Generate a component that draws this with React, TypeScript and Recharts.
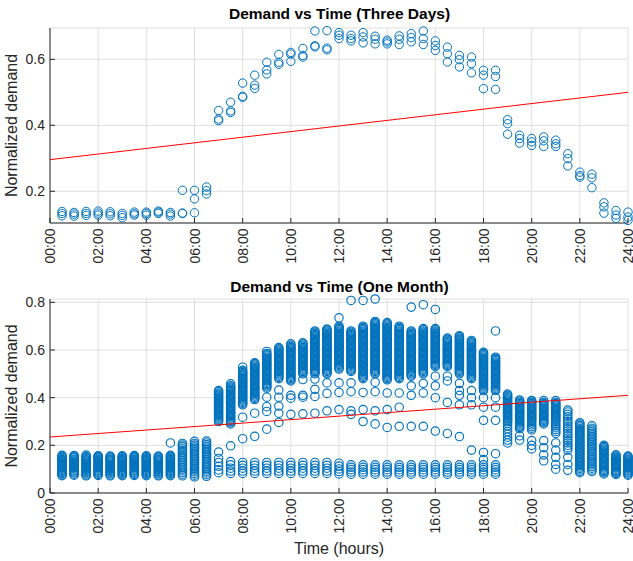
import React from 'react';
import { ScatterChart, Scatter, XAxis, YAxis, CartesianGrid } from 'recharts';

const hours = [
  0.5, 1, 1.5, 2, 2.5, 3, 3.5, 4, 4.5, 5, 5.5, 6, 6.5, 7, 7.5, 8, 8.5, 9, 9.5, 10, 10.5, 11, 11.5, 12,
  12.5, 13, 13.5, 14, 14.5, 15, 15.5, 16, 16.5, 17, 17.5, 18, 18.5, 19, 19.5, 20, 20.5, 21, 21.5, 22,
  22.5, 23, 23.5, 24,
];
const hourTicks = [0, 2, 4, 6, 8, 10, 12, 14, 16, 18, 20, 22, 24];
const threeDayYTicks = [0.2, 0.4, 0.6];
const monthYTicks = [0, 0.2, 0.4, 0.6, 0.8];

const threeDayDemand = [
  [0.139, 0.133, 0.126], [0.136, 0.131, 0.125], [0.139, 0.133, 0.127], [0.14, 0.134, 0.128],
  [0.138, 0.132, 0.126], [0.133, 0.127, 0.12], [0.137, 0.132, 0.128], [0.137, 0.133, 0.128],
  [0.14, 0.137, 0.133], [0.136, 0.131, 0.125], [0.203, 0.134, 0.133], [0.203, 0.177, 0.135],
  [0.213, 0.202, 0.192], [0.445, 0.419, 0.414], [0.47, 0.444, 0.439], [0.528, 0.488, 0.485],
  [0.552, 0.522, 0.512], [0.591, 0.568, 0.556], [0.615, 0.591, 0.585], [0.621, 0.616, 0.594],
  [0.633, 0.612, 0.607], [0.686, 0.641, 0.638], [0.687, 0.634, 0.629], [0.681, 0.673, 0.663],
  [0.673, 0.663, 0.656], [0.681, 0.668, 0.65], [0.67, 0.661, 0.647], [0.658, 0.653, 0.647],
  [0.671, 0.661, 0.645], [0.678, 0.666, 0.653], [0.686, 0.663, 0.645], [0.656, 0.642, 0.627],
  [0.637, 0.617, 0.592], [0.612, 0.599, 0.577], [0.607, 0.587, 0.559], [0.567, 0.552, 0.511],
  [0.567, 0.548, 0.509], [0.417, 0.405, 0.373], [0.37, 0.36, 0.346], [0.36, 0.35, 0.339],
  [0.365, 0.353, 0.336], [0.355, 0.344, 0.336], [0.314, 0.299, 0.277], [0.258, 0.248, 0.243],
  [0.252, 0.241, 0.211], [0.165, 0.153, 0.134], [0.142, 0.128, 0.118], [0.137, 0.122, 0.112],
];

// one month: readings per half-hour column, 00:30 - 06:30
const monthNight = [
  [0.073, 0.077, 0.082, 0.086, 0.091, 0.095, 0.1, 0.104, 0.109, 0.113, 0.118, 0.122, 0.127, 0.131, 0.136, 0.14, 0.145, 0.149, 0.154, 0.158],
  [0.075, 0.079, 0.084, 0.088, 0.093, 0.097, 0.102, 0.106, 0.111, 0.115, 0.12, 0.124, 0.129, 0.133, 0.138, 0.142, 0.147, 0.151, 0.155, 0.157],
  [0.072, 0.076, 0.081, 0.085, 0.09, 0.094, 0.099, 0.103, 0.108, 0.112, 0.117, 0.121, 0.126, 0.13, 0.135, 0.139, 0.144, 0.148, 0.153, 0.159],
  [0.074, 0.078, 0.083, 0.087, 0.092, 0.096, 0.101, 0.105, 0.11, 0.114, 0.119, 0.123, 0.128, 0.132, 0.137, 0.141, 0.146, 0.15, 0.154, 0.156],
  [0.072, 0.076, 0.081, 0.085, 0.09, 0.094, 0.099, 0.103, 0.108, 0.112, 0.117, 0.121, 0.126, 0.13, 0.135, 0.139, 0.143, 0.147, 0.151, 0.155],
  [0.073, 0.077, 0.082, 0.086, 0.091, 0.095, 0.1, 0.104, 0.109, 0.113, 0.118, 0.122, 0.127, 0.131, 0.136, 0.14, 0.144, 0.148, 0.152, 0.156],
  [0.074, 0.078, 0.083, 0.087, 0.092, 0.096, 0.101, 0.105, 0.11, 0.114, 0.119, 0.123, 0.128, 0.132, 0.137, 0.141, 0.146, 0.15, 0.154, 0.157],
  [0.073, 0.077, 0.082, 0.086, 0.091, 0.095, 0.1, 0.104, 0.109, 0.113, 0.118, 0.122, 0.127, 0.131, 0.136, 0.14, 0.144, 0.148, 0.152, 0.156],
  [0.072, 0.076, 0.081, 0.085, 0.09, 0.094, 0.099, 0.103, 0.108, 0.112, 0.117, 0.121, 0.126, 0.13, 0.135, 0.139, 0.143, 0.147, 0.151, 0.155],
  [0.073, 0.077, 0.082, 0.086, 0.091, 0.095, 0.1, 0.104, 0.109, 0.113, 0.118, 0.122, 0.127, 0.131, 0.136, 0.14, 0.145, 0.149, 0.154, 0.158, 0.21],
  [0.072, 0.079, 0.086, 0.093, 0.1, 0.107, 0.114, 0.121, 0.128, 0.135, 0.142, 0.149, 0.156, 0.163, 0.17, 0.178, 0.186, 0.194, 0.201, 0.208],
  [0.068, 0.075, 0.082, 0.089, 0.096, 0.103, 0.11, 0.117, 0.124, 0.131, 0.138, 0.145, 0.152, 0.159, 0.166, 0.173, 0.18, 0.187, 0.194, 0.201, 0.208, 0.217],
  [0.07, 0.077, 0.084, 0.091, 0.098, 0.105, 0.112, 0.119, 0.126, 0.133, 0.14, 0.147, 0.154, 0.161, 0.168, 0.175, 0.182, 0.189, 0.196, 0.203, 0.21, 0.218],
];

// one month: 07:00 - 12:00
const monthMorning = [
  [0.3, 0.305, 0.31, 0.315, 0.32, 0.325, 0.33, 0.335, 0.34, 0.345, 0.35, 0.355, 0.36, 0.365, 0.37, 0.375, 0.38, 0.385, 0.39, 0.395, 0.4, 0.405, 0.41, 0.415, 0.42, 0.425, 0.43,
    0.172, 0.145, 0.128, 0.112, 0.097, 0.085],
  [0.29, 0.295, 0.3, 0.305, 0.31, 0.315, 0.32, 0.325, 0.33, 0.335, 0.34, 0.345, 0.35, 0.355, 0.36, 0.365, 0.37, 0.375, 0.38, 0.385, 0.39, 0.395, 0.4, 0.405, 0.41, 0.415, 0.42, 0.425, 0.43, 0.435, 0.44, 0.445, 0.45, 0.458,
    0.198, 0.132, 0.118, 0.104, 0.092, 0.082],
  [0.37, 0.375, 0.38, 0.385, 0.39, 0.395, 0.4, 0.405, 0.41, 0.415, 0.42, 0.425, 0.43, 0.435, 0.44, 0.445, 0.45, 0.455, 0.46, 0.465, 0.47, 0.475, 0.48, 0.485, 0.49, 0.495, 0.5, 0.505, 0.51, 0.515, 0.528,
    0.318, 0.228, 0.128, 0.116, 0.104, 0.092, 0.082],
  [0.392, 0.397, 0.402, 0.407, 0.412, 0.417, 0.422, 0.427, 0.432, 0.437, 0.442, 0.447, 0.452, 0.457, 0.462, 0.467, 0.472, 0.477, 0.482, 0.487, 0.492, 0.497, 0.502, 0.507, 0.512, 0.517, 0.522, 0.527, 0.532, 0.537, 0.542, 0.546,
    0.335, 0.238, 0.128, 0.116, 0.104, 0.092, 0.082],
  [0.44, 0.445, 0.45, 0.455, 0.46, 0.465, 0.47, 0.475, 0.48, 0.485, 0.49, 0.495, 0.5, 0.505, 0.51, 0.515, 0.52, 0.525, 0.53, 0.535, 0.54, 0.545, 0.55, 0.555, 0.56, 0.565, 0.57, 0.575, 0.58, 0.585, 0.594,
    0.402, 0.362, 0.342, 0.268, 0.128, 0.116, 0.104, 0.092, 0.082],
  [0.48, 0.485, 0.49, 0.495, 0.5, 0.505, 0.51, 0.515, 0.52, 0.525, 0.53, 0.535, 0.54, 0.545, 0.55, 0.555, 0.56, 0.565, 0.57, 0.575, 0.58, 0.585, 0.59, 0.595, 0.6, 0.605, 0.61,
    0.432, 0.402, 0.365, 0.335, 0.296, 0.128, 0.116, 0.104, 0.092, 0.082],
  [0.47, 0.475, 0.48, 0.485, 0.49, 0.495, 0.5, 0.505, 0.51, 0.515, 0.52, 0.525, 0.53, 0.535, 0.54, 0.545, 0.55, 0.555, 0.56, 0.565, 0.57, 0.575, 0.58, 0.585, 0.59, 0.595, 0.6, 0.605, 0.61, 0.615, 0.62, 0.626,
    0.41, 0.398, 0.33, 0.128, 0.116, 0.104, 0.092, 0.082],
  [0.5, 0.505, 0.51, 0.515, 0.52, 0.525, 0.53, 0.535, 0.54, 0.545, 0.55, 0.555, 0.56, 0.565, 0.57, 0.575, 0.58, 0.585, 0.59, 0.595, 0.6, 0.605, 0.61, 0.615, 0.62, 0.625, 0.63,
    0.476, 0.41, 0.402, 0.332, 0.128, 0.116, 0.104, 0.092, 0.082],
  [0.5, 0.505, 0.51, 0.515, 0.52, 0.525, 0.53, 0.535, 0.54, 0.545, 0.55, 0.555, 0.56, 0.565, 0.57, 0.575, 0.58, 0.585, 0.59, 0.595, 0.6, 0.605, 0.61, 0.615, 0.62, 0.625, 0.63, 0.635, 0.64, 0.645, 0.65, 0.655, 0.66, 0.665, 0.67, 0.675, 0.68,
    0.478, 0.435, 0.405, 0.335, 0.128, 0.116, 0.104, 0.092, 0.082],
  [0.5, 0.505, 0.51, 0.515, 0.52, 0.525, 0.53, 0.535, 0.54, 0.545, 0.55, 0.555, 0.56, 0.565, 0.57, 0.575, 0.58, 0.585, 0.59, 0.595, 0.6, 0.605, 0.61, 0.615, 0.62, 0.625, 0.63, 0.635, 0.64, 0.645, 0.65, 0.655, 0.66, 0.665, 0.67, 0.675, 0.68, 0.684, 0.688,
    0.462, 0.418, 0.345, 0.128, 0.116, 0.104, 0.092, 0.082],
  [0.52, 0.525, 0.53, 0.535, 0.54, 0.545, 0.55, 0.555, 0.56, 0.565, 0.57, 0.575, 0.58, 0.585, 0.59, 0.595, 0.6, 0.605, 0.61, 0.615, 0.62, 0.625, 0.63, 0.635, 0.64, 0.645, 0.65, 0.655, 0.66, 0.665, 0.67, 0.675, 0.68, 0.685, 0.69, 0.695, 0.7,
    0.735, 0.462, 0.422, 0.35, 0.125, 0.113, 0.101, 0.09, 0.08],
];

// one month: 12:30 - 18:30
const monthAfternoon = [
  [0.51, 0.515, 0.52, 0.525, 0.53, 0.535, 0.54, 0.545, 0.55, 0.555, 0.56, 0.565, 0.57, 0.575, 0.58, 0.585, 0.59, 0.595, 0.6, 0.605, 0.61, 0.615, 0.62, 0.625, 0.63, 0.635, 0.64, 0.645, 0.65, 0.655, 0.66, 0.665, 0.67, 0.675, 0.68,
    0.808, 0.462, 0.425, 0.345, 0.33, 0.118, 0.108, 0.098, 0.088, 0.079],
  [0.48, 0.485, 0.49, 0.495, 0.5, 0.505, 0.51, 0.515, 0.52, 0.525, 0.53, 0.535, 0.54, 0.545, 0.55, 0.555, 0.56, 0.565, 0.57, 0.575, 0.58, 0.585, 0.59, 0.595, 0.6, 0.605, 0.61, 0.615, 0.62, 0.625, 0.63, 0.635, 0.64, 0.645, 0.65, 0.655, 0.66, 0.665, 0.67, 0.675, 0.68, 0.685, 0.69, 0.695, 0.7,
    0.808, 0.422, 0.35, 0.3, 0.118, 0.108, 0.098, 0.088, 0.079],
  [0.5, 0.505, 0.51, 0.515, 0.52, 0.525, 0.53, 0.535, 0.54, 0.545, 0.55, 0.555, 0.56, 0.565, 0.57, 0.575, 0.58, 0.585, 0.59, 0.595, 0.6, 0.605, 0.61, 0.615, 0.62, 0.625, 0.63, 0.635, 0.64, 0.645, 0.65, 0.655, 0.66, 0.665, 0.67, 0.675, 0.68, 0.685, 0.69, 0.695, 0.7, 0.705, 0.71, 0.715, 0.72,
    0.814, 0.465, 0.425, 0.345, 0.29, 0.118, 0.108, 0.098, 0.088, 0.079],
  [0.475, 0.48, 0.485, 0.49, 0.495, 0.5, 0.505, 0.51, 0.515, 0.52, 0.525, 0.53, 0.535, 0.54, 0.545, 0.55, 0.555, 0.56, 0.565, 0.57, 0.575, 0.58, 0.585, 0.59, 0.595, 0.6, 0.605, 0.61, 0.615, 0.62, 0.625, 0.63, 0.635, 0.64, 0.645, 0.65, 0.655, 0.66, 0.665, 0.67, 0.675, 0.68, 0.685, 0.69, 0.695, 0.7, 0.705, 0.71, 0.715,
    0.42, 0.35, 0.275, 0.118, 0.108, 0.098, 0.088, 0.079],
  [0.48, 0.485, 0.49, 0.495, 0.5, 0.505, 0.51, 0.515, 0.52, 0.525, 0.53, 0.535, 0.54, 0.545, 0.55, 0.555, 0.56, 0.565, 0.57, 0.575, 0.58, 0.585, 0.59, 0.595, 0.6, 0.605, 0.61, 0.615, 0.62, 0.625, 0.63, 0.635, 0.64, 0.645, 0.65, 0.655, 0.66, 0.665, 0.67, 0.675, 0.68, 0.685, 0.69, 0.695, 0.7,
    0.42, 0.36, 0.28, 0.118, 0.108, 0.098, 0.088, 0.079],
  [0.49, 0.495, 0.5, 0.505, 0.51, 0.515, 0.52, 0.525, 0.53, 0.535, 0.54, 0.545, 0.55, 0.555, 0.56, 0.565, 0.57, 0.575, 0.58, 0.585, 0.59, 0.595, 0.6, 0.605, 0.61, 0.615, 0.62, 0.625, 0.63, 0.635, 0.64, 0.645, 0.65, 0.655, 0.66, 0.665, 0.67, 0.675, 0.68,
    0.78, 0.45, 0.41, 0.28, 0.118, 0.108, 0.098, 0.088, 0.079],
  [0.5, 0.505, 0.51, 0.515, 0.52, 0.525, 0.53, 0.535, 0.54, 0.545, 0.55, 0.555, 0.56, 0.565, 0.57, 0.575, 0.58, 0.585, 0.59, 0.595, 0.6, 0.605, 0.61, 0.615, 0.62, 0.625, 0.63, 0.635, 0.64, 0.645, 0.65, 0.655, 0.66, 0.665, 0.67, 0.675, 0.68, 0.685, 0.69,
    0.79, 0.46, 0.42, 0.28, 0.118, 0.108, 0.098, 0.088, 0.079],
  [0.53, 0.535, 0.54, 0.545, 0.55, 0.555, 0.56, 0.565, 0.57, 0.575, 0.58, 0.585, 0.59, 0.595, 0.6, 0.605, 0.61, 0.615, 0.62, 0.625, 0.63, 0.635, 0.64, 0.645, 0.65, 0.655, 0.66, 0.665, 0.67, 0.675, 0.68, 0.685, 0.69,
    0.77, 0.49, 0.45, 0.4, 0.26, 0.118, 0.108, 0.098, 0.088, 0.079],
  [0.53, 0.535, 0.54, 0.545, 0.55, 0.555, 0.56, 0.565, 0.57, 0.575, 0.58, 0.585, 0.59, 0.595, 0.6, 0.605, 0.61, 0.615, 0.62, 0.625, 0.63, 0.635, 0.64, 0.645, 0.65,
    0.49, 0.47, 0.38, 0.25, 0.118, 0.108, 0.098, 0.088, 0.079],
  [0.5, 0.505, 0.51, 0.515, 0.52, 0.525, 0.53, 0.535, 0.54, 0.545, 0.55, 0.555, 0.56, 0.565, 0.57, 0.575, 0.58, 0.585, 0.59, 0.595, 0.6, 0.605, 0.61, 0.615, 0.62, 0.625, 0.63, 0.635, 0.64, 0.645, 0.65, 0.655, 0.66,
    0.46, 0.43, 0.41, 0.37, 0.237, 0.118, 0.108, 0.098, 0.088, 0.079],
  [0.48, 0.485, 0.49, 0.495, 0.5, 0.505, 0.51, 0.515, 0.52, 0.525, 0.53, 0.535, 0.54, 0.545, 0.55, 0.555, 0.56, 0.565, 0.57, 0.575, 0.58, 0.585, 0.59, 0.595, 0.6, 0.605, 0.61, 0.615, 0.62, 0.625, 0.63, 0.635, 0.64,
    0.43, 0.4, 0.37, 0.18, 0.118, 0.108, 0.098, 0.088, 0.079],
  [0.43, 0.435, 0.44, 0.445, 0.45, 0.455, 0.46, 0.465, 0.47, 0.475, 0.48, 0.485, 0.49, 0.495, 0.5, 0.505, 0.51, 0.515, 0.52, 0.525, 0.53, 0.535, 0.54, 0.545, 0.55, 0.555, 0.56, 0.565, 0.57, 0.575, 0.58, 0.585, 0.59,
    0.4, 0.36, 0.305, 0.17, 0.14, 0.118, 0.108, 0.098, 0.088, 0.079],
  [0.43, 0.435, 0.44, 0.445, 0.45, 0.455, 0.46, 0.465, 0.47, 0.475, 0.48, 0.485, 0.49, 0.495, 0.5, 0.505, 0.51, 0.515, 0.52, 0.525, 0.53, 0.535, 0.54, 0.545, 0.55, 0.555, 0.56, 0.565, 0.57,
    0.68, 0.4, 0.36, 0.305, 0.165, 0.118, 0.108, 0.098, 0.088, 0.079],
];

// one month: 19:00 - 24:00
const monthEvening = [
  [0.21, 0.222, 0.234, 0.246, 0.258, 0.27, 0.282, 0.292, 0.3, 0.305, 0.31, 0.315, 0.32, 0.325, 0.33, 0.335, 0.34, 0.345, 0.35, 0.355, 0.36, 0.365, 0.37, 0.375, 0.38, 0.385, 0.39, 0.395, 0.4, 0.405, 0.41, 0.415],
  [0.27, 0.275, 0.28, 0.285, 0.29, 0.295, 0.3, 0.305, 0.31, 0.315, 0.32, 0.325, 0.33, 0.335, 0.34, 0.345, 0.35, 0.355, 0.36, 0.365, 0.37, 0.375, 0.38, 0.385, 0.39, 0.24, 0.222],
  [0.265, 0.272, 0.279, 0.286, 0.293, 0.3, 0.305, 0.31, 0.315, 0.32, 0.325, 0.33, 0.335, 0.34, 0.345, 0.35, 0.355, 0.36, 0.365, 0.37, 0.375, 0.38, 0.385, 0.388, 0.22, 0.2, 0.185],
  [0.29, 0.295, 0.3, 0.305, 0.31, 0.315, 0.32, 0.325, 0.33, 0.335, 0.34, 0.345, 0.35, 0.355, 0.36, 0.365, 0.37, 0.375, 0.38, 0.388, 0.22, 0.19, 0.16, 0.135],
  [0.25, 0.258, 0.266, 0.274, 0.282, 0.29, 0.298, 0.305, 0.31, 0.315, 0.32, 0.325, 0.33, 0.335, 0.34, 0.345, 0.35, 0.355, 0.36, 0.365, 0.37, 0.375, 0.38, 0.388, 0.21, 0.18, 0.15, 0.12, 0.1],
  [0.18, 0.19, 0.2, 0.21, 0.22, 0.23, 0.24, 0.25, 0.26, 0.27, 0.28, 0.29, 0.3, 0.31, 0.32, 0.33, 0.34, 0.348, 0.15, 0.12, 0.095],
  [0.085, 0.091, 0.097, 0.103, 0.109, 0.115, 0.121, 0.127, 0.133, 0.139, 0.145, 0.151, 0.157, 0.163, 0.169, 0.175, 0.181, 0.187, 0.193, 0.199, 0.205, 0.211, 0.217, 0.223, 0.229, 0.235, 0.241, 0.247, 0.253, 0.259, 0.265, 0.271, 0.277, 0.283, 0.289, 0.295],
  [0.09, 0.097, 0.104, 0.111, 0.118, 0.125, 0.132, 0.139, 0.146, 0.153, 0.16, 0.167, 0.174, 0.181, 0.188, 0.195, 0.202, 0.209, 0.216, 0.223, 0.23, 0.237, 0.244, 0.251, 0.258, 0.265, 0.272, 0.282],
  [0.08, 0.085, 0.09, 0.095, 0.1, 0.105, 0.11, 0.115, 0.12, 0.125, 0.13, 0.135, 0.14, 0.145, 0.15, 0.155, 0.16, 0.165, 0.17, 0.175, 0.18, 0.185, 0.19, 0.195, 0.2],
  [0.078, 0.082, 0.087, 0.091, 0.096, 0.1, 0.105, 0.109, 0.114, 0.118, 0.123, 0.127, 0.132, 0.136, 0.141, 0.145, 0.15, 0.155, 0.16],
  [0.075, 0.079, 0.084, 0.088, 0.093, 0.097, 0.102, 0.106, 0.111, 0.115, 0.12, 0.124, 0.129, 0.133, 0.138, 0.142, 0.147, 0.151, 0.155],
];

const monthDemand = [...monthNight, ...monthMorning, ...monthAfternoon, ...monthEvening];

const fitHours = [0, 24];
const fitThreeDay = [0.296, 0.5];
const fitMonth = [0.235, 0.41];

const FONT = '"Liberation Sans", Arial, Helvetica, sans-serif';
const BLUE = '#0072BD';
const AXIS = '#262626';
const GRID = '#dfdfdf';

const toPoints = (cols: number[][]) => hours.flatMap((h, i) => cols[i].map((v) => ({ h, v })));
const toLine = (vals: number[]) => fitHours.map((h, i) => ({ h, v: vals[i] }));

const threeDayPoints = toPoints(threeDayDemand);
const monthPoints = toPoints(monthDemand);

const Ring = (p: any) => (
  <circle cx={p.cx} cy={p.cy} r={4.2} fill="none" stroke={BLUE} strokeWidth={1} />
);
const RingMonth = (p: any) => (
  <circle cx={p.cx} cy={p.cy} r={4.2} fill="none" stroke={BLUE} strokeWidth={1.15} />
);
const NoDot = () => <g />;

const fmtHour = (v: number) => `${v < 10 ? '0' : ''}${v}:00`;
const fmtY = (v: number) => (v === 0 ? '0' : String(v));

const XTick = (p: any) => (
  <text
    x={p.x}
    y={p.y}
    transform={`rotate(-90 ${p.x} ${p.y})`}
    textAnchor="end"
    dominantBaseline="central"
    fontSize={14}
    fill={AXIS}
    fontFamily={FONT}
  >
    {fmtHour(p.payload.value)}
  </text>
);

const yLabel = {
  value: 'Normalized demand',
  angle: -90,
  position: 'insideLeft' as const,
  offset: 11,
  style: { textAnchor: 'middle', fontSize: 16, fill: AXIS, fontFamily: FONT },
};

export default function App() {
  return (
    <div style={{ position: 'absolute', left: 0, top: 0, width: 633, height: 561, background: '#fff', fontFamily: FONT }}>
      <div style={{ position: 'absolute', left: 0, top: 0 }}>
        <ScatterChart width={633} height={270} margin={{ top: 28, right: 5, bottom: 0, left: 0 }} style={{ fontFamily: FONT }}>
          <CartesianGrid stroke={GRID} strokeWidth={1} />
          <XAxis
            type="number"
            dataKey="h"
            domain={[0, 24]}
            ticks={hourTicks}
            interval={0}
            height={47}
            stroke={AXIS}
            tickSize={-5}
            tickMargin={10.5}
            tick={<XTick />}
          />
          <YAxis
            type="number"
            dataKey="v"
            domain={[0.104, 0.695]}
            ticks={threeDayYTicks}
            interval={0}
            width={50}
            stroke={AXIS}
            tickSize={-5}
            tickMargin={10}
            tickFormatter={fmtY}
            tick={{ fontSize: 14, fill: AXIS, fontFamily: FONT }}
            label={yLabel}
          />
          <Scatter data={threeDayPoints} shape={Ring} isAnimationActive={false} />
          <Scatter data={toLine(fitThreeDay)} shape={NoDot} line={{ stroke: '#ff0000', strokeWidth: 1 }} isAnimationActive={false} />
        </ScatterChart>
      </div>
      <div style={{ position: 'absolute', left: 0, top: 270 }}>
        <ScatterChart width={633} height={291} margin={{ top: 29, right: 5, bottom: 0, left: 0 }} style={{ fontFamily: FONT }}>
          <CartesianGrid stroke={GRID} strokeWidth={1} />
          <XAxis
            type="number"
            dataKey="h"
            domain={[0, 24]}
            ticks={hourTicks}
            interval={0}
            height={68}
            stroke={AXIS}
            tickSize={-5}
            tickMargin={10.5}
            tick={<XTick />}
            label={{ value: 'Time (hours)', position: 'insideBottom', offset: 7.5, style: { fontSize: 16, fill: AXIS, fontFamily: FONT } }}
          />
          <YAxis
            type="number"
            dataKey="v"
            domain={[0, 0.8]}
            ticks={monthYTicks}
            interval={0}
            width={50}
            stroke={AXIS}
            tickSize={-5}
            tickMargin={10}
            tickFormatter={fmtY}
            tick={{ fontSize: 14, fill: AXIS, fontFamily: FONT }}
            label={yLabel}
          />
          <Scatter data={monthPoints} shape={RingMonth} isAnimationActive={false} />
          <Scatter data={toLine(fitMonth)} shape={NoDot} line={{ stroke: '#ff0000', strokeWidth: 1 }} isAnimationActive={false} />
        </ScatterChart>
      </div>
      <svg width={633} height={561} style={{ position: 'absolute', left: 0, top: 0, pointerEvents: 'none' }}>
        <text x={339.5} y={19} textAnchor="middle" fontSize={15.5} fontWeight="bold" fill="#000" fontFamily={FONT}>
          Demand vs Time (Three Days)
        </text>
        <text x={339.5} y={292.3} textAnchor="middle" fontSize={15.5} fontWeight="bold" fill="#000" fontFamily={FONT}>
          Demand vs Time (One Month)
        </text>
      </svg>
    </div>
  );
}
